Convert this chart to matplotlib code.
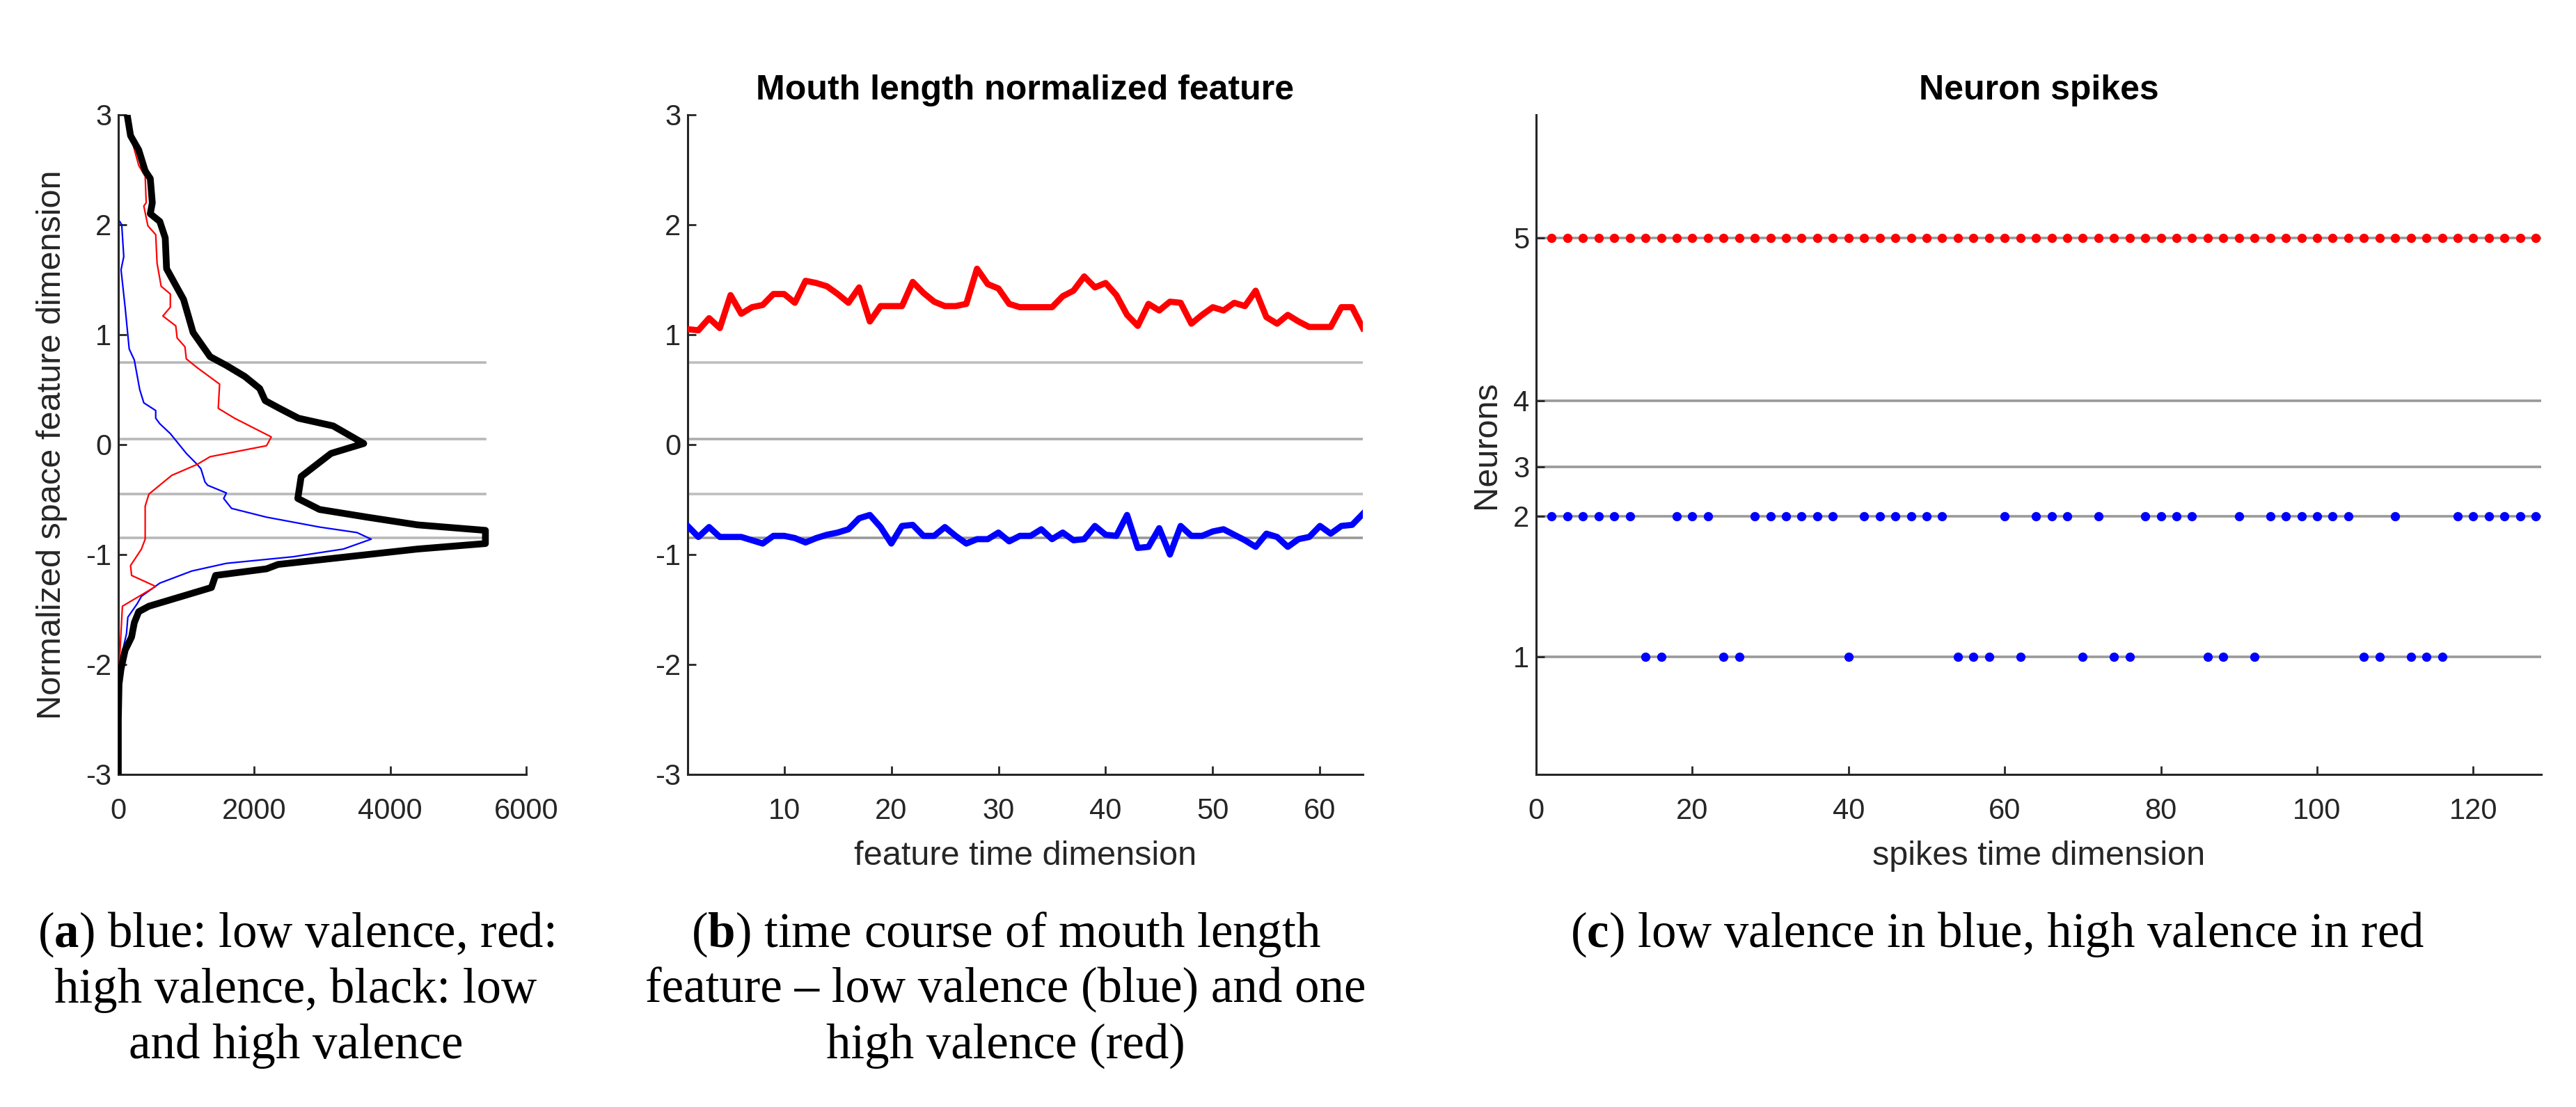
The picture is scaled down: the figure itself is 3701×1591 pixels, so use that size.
import matplotlib
matplotlib.use("Agg")
import matplotlib.pyplot as plt

# Panel (a): histograms, (bin centre, count)
black_y = [3.00, 2.81, 2.68, 2.49, 2.42, 2.20, 2.10, 2.03, 1.88, 1.60, 1.32, 1.02, 0.80, 0.72,
           0.62, 0.51, 0.40, 0.33, 0.24, 0.17, 0.01, -0.08, -0.29, -0.49, -0.59, -0.66, -0.73,
           -0.78, -0.90, -0.95, -1.09, -1.13, -1.19, -1.30, -1.47, -1.52, -1.62, -1.75, -1.87,
           -2.04, -2.18, -2.50, -3.00]
black_n = [130, 180, 300, 395, 470, 500, 470, 610, 690, 710, 960, 1100, 1350, 1590,
           1860, 2080, 2160, 2370, 2650, 3160, 3610, 3130, 2690, 2640, 2960, 3660, 4400,
           5400, 5400, 4400, 2350, 2180, 1430, 1370, 450, 300, 235, 195, 100,
           40, 10, 0, 0]
red_y = [3.00, 2.81, 2.54, 2.44, 2.20, 2.17, 1.99, 1.91, 1.65, 1.44, 1.37, 1.25, 1.17, 1.08,
         0.97, 0.89, 0.78, 0.70, 0.55, 0.33, 0.24, 0.07, -0.01, -0.11, -0.18, -0.28, -0.45,
         -0.56, -0.86, -0.95, -1.10, -1.19, -1.29, -1.47, -1.94, -2.30, -3.00]
red_n = [130, 180, 300, 395, 410, 375, 435, 550, 570, 630, 765, 765, 655, 845,
         865, 980, 1000, 1160, 1490, 1470, 1710, 2250, 2180, 1350, 1160, 785, 450,
         395, 395, 340, 180, 195, 550, 60, 20, 0, 0]
blue_y = [3.00, 2.05, 2.00, 1.71, 1.59, 1.25, 0.87, 0.77, 0.50, 0.38, 0.31, 0.24, 0.19, 0.10,
          -0.08, -0.18, -0.22, -0.34, -0.37, -0.44, -0.49, -0.58, -0.66, -0.75, -0.80, -0.86,
          -0.95, -1.02, -1.08, -1.15, -1.26, -1.38, -1.45, -1.57, -1.72, -1.94, -2.30, -3.00]
blue_n = [0, 0, 50, 80, 40, 100, 160, 235, 315, 375, 550, 550, 610, 765,
          1000, 1160, 1215, 1275, 1315, 1590, 1550, 1665, 2180, 2960, 3510, 3720,
          3310, 2570, 1590, 1080, 610, 340, 275, 140, 120, 40, 0, 0]
thresholds = [0.75, 0.05, -0.45, -0.85]

# Panel (b): mouth length feature over 64 frames
t_feat = list(range(1, 65))
high_val = [1.05, 1.04, 1.15, 1.06, 1.36, 1.19, 1.25, 1.27, 1.37, 1.37, 1.29, 1.49, 1.47, 1.44,
            1.37, 1.29, 1.43, 1.12, 1.26, 1.26, 1.26, 1.48, 1.38, 1.30, 1.26, 1.26, 1.28, 1.60,
            1.46, 1.42, 1.28, 1.25, 1.25, 1.25, 1.25, 1.35, 1.40, 1.53, 1.43, 1.47, 1.36, 1.18,
            1.08, 1.28, 1.22, 1.30, 1.29, 1.10, 1.18, 1.25, 1.22, 1.29, 1.26, 1.40, 1.16, 1.10,
            1.18, 1.12, 1.07, 1.07, 1.07, 1.25, 1.25, 1.06]
low_val = [-0.74, -0.84, -0.75, -0.84, -0.84, -0.84, -0.87, -0.90, -0.83, -0.83, -0.85, -0.89,
           -0.85, -0.82, -0.80, -0.77, -0.67, -0.64, -0.75, -0.90, -0.74, -0.73, -0.83, -0.83,
           -0.75, -0.83, -0.90, -0.86, -0.86, -0.80, -0.88, -0.83, -0.83, -0.77, -0.86, -0.80,
           -0.87, -0.86, -0.74, -0.82, -0.83, -0.64, -0.94, -0.93, -0.76, -1.00, -0.74, -0.83,
           -0.83, -0.79, -0.77, -0.82, -0.87, -0.93, -0.81, -0.84, -0.93, -0.86, -0.84, -0.74,
           -0.81, -0.74, -0.73, -0.63]

# Panel (c): spike times per neuron
neuron_labels = ["1", "2", "3", "4", "5"]
neuron_pos = [-1.93, -0.65, -0.20, 0.40, 1.88]
red_spikes_n5 = list(range(2, 129, 2))
blue_spikes_n2 = [2, 4, 6, 8, 10, 12, 18, 20, 22, 28, 30, 32, 34, 36, 38, 42, 44, 46, 48, 50, 52,
                  60, 64, 66, 68, 72, 78, 80, 82, 84, 90, 94, 96, 98, 100, 102, 104, 110,
                  118, 120, 122, 124, 126, 128]
blue_spikes_n1 = [14, 16, 24, 26, 40, 54, 56, 58, 62, 70, 74, 76, 86, 88, 92, 106, 108,
                  112, 114, 116]

plt.rcParams['font.family'] = ['Liberation Sans', 'DejaVu Sans']
plt.rcParams['mathtext.fontset'] = 'custom'
plt.rcParams['mathtext.rm'] = 'Liberation Serif'
plt.rcParams['mathtext.bf'] = 'Liberation Serif:bold'

W, H = 3701, 1591
fig = plt.figure(figsize=(W / 200, H / 200), dpi=200)

axis_col = (0.15, 0.15, 0.15)
ax_bottom = 1 - 1113 / H
ax_height = (1113 - 165) / H
label_size = 17.5
title_size = 18


def style_axes(ax):
    for s in ["top", "right"]:
        ax.spines[s].set_visible(False)
    for s in ["left", "bottom"]:
        ax.spines[s].set_linewidth(1.1)
        ax.spines[s].set_color(axis_col)
    ax.tick_params(direction="in", length=4.3, width=1.0, colors=axis_col,
                   labelsize=15, labelcolor=axis_col)


# (a)
ax1 = fig.add_axes([170 / W, ax_bottom, (756 - 170) / W, ax_height])
for th in thresholds:
    ax1.plot([0, max(black_n)], [th, th], color=(0.72, 0.72, 0.72), lw=1.3, zorder=1)
ax1.plot(blue_n, blue_y, color="blue", lw=0.8, zorder=2)
ax1.plot(red_n, red_y, color="red", lw=0.8, zorder=3)
ax1.plot(black_n, black_y, color="black", lw=3.5, zorder=4)
ax1.set_xlim(0, 6000)
ax1.set_ylim(-3, 3)
ax1.set_xticks([0, 2000, 4000, 6000])
ax1.set_yticks([-3, -2, -1, 0, 1, 2, 3])
ax1.set_yticklabels(["-3", "-2", "-1", "0", "1", "2", "3"])
style_axes(ax1)
ax1.tick_params(axis="x", pad=12)
ax1.set_ylabel("Normalized space feature dimension", fontsize=label_size, color=axis_col)
ax1.yaxis.set_label_coords(-0.125, 0.5)

# (b)
ax2 = fig.add_axes([988 / W, ax_bottom, (1958 - 988) / W, ax_height])
th_cols = [(0.75, 0.75, 0.75), (0.68, 0.68, 0.68), (0.75, 0.75, 0.75), (0.6, 0.6, 0.6)]
for th, c in zip(thresholds, th_cols):
    ax2.axhline(th, color=c, lw=1.3, zorder=1)
ax2.plot(t_feat, high_val, color="red", lw=3.2, zorder=3)
ax2.plot(t_feat, low_val, color="blue", lw=3.2, zorder=3)
ax2.set_xlim(1, 64)
ax2.set_ylim(-3, 3)
ax2.set_xticks([10, 20, 30, 40, 50, 60])
ax2.set_yticks([-3, -2, -1, 0, 1, 2, 3])
ax2.set_yticklabels(["-3", "-2", "-1", "0", "1", "2", "3"])
style_axes(ax2)
ax2.tick_params(axis="x", pad=12)
ax2.set_xlabel("feature time dimension", fontsize=label_size, color=axis_col)
ax2.xaxis.set_label_coords(0.5, -0.1)
ax2.text(0.5, 1.037, "Mouth length normalized feature", transform=ax2.transAxes,
         ha="center", va="center", fontsize=title_size, fontweight="bold")

# (c)
ax3 = fig.add_axes([2207 / W, ax_bottom, (3651 - 2207) / W, ax_height])
for p in neuron_pos:
    ax3.axhline(p, color=(0.6, 0.6, 0.6), lw=1.3, zorder=1)
ax3.plot(red_spikes_n5, [neuron_pos[4]] * len(red_spikes_n5), "o", color="red",
         markersize=4.8, markeredgewidth=0, zorder=3)
ax3.plot(blue_spikes_n2, [neuron_pos[1]] * len(blue_spikes_n2), "o", color="blue",
         markersize=4.8, markeredgewidth=0, zorder=3)
ax3.plot(blue_spikes_n1, [neuron_pos[0]] * len(blue_spikes_n1), "o", color="blue",
         markersize=4.8, markeredgewidth=0, zorder=3)
ax3.set_xlim(0, 128.7)
ax3.set_ylim(-3, 3)
ax3.set_xticks([0, 20, 40, 60, 80, 100, 120])
ax3.set_yticks(neuron_pos)
ax3.set_yticklabels(neuron_labels)
style_axes(ax3)
ax3.tick_params(axis="x", pad=12)
ax3.set_xlabel("spikes time dimension", fontsize=label_size, color=axis_col)
ax3.xaxis.set_label_coords(0.5, -0.1)
ax3.set_ylabel("Neurons", fontsize=label_size, color=axis_col)
ax3.yaxis.set_label_coords(-0.034, 0.5)
ax3.text(0.5, 1.037, "Neuron spikes", transform=ax3.transAxes,
         ha="center", va="center", fontsize=title_size, fontweight="bold")

# captions
cap_font = dict(family="Liberation Serif", fontsize=25.5, ha="center", va="center")
line_y = [1 - 1343 / H, 1 - 1423 / H, 1 - 1503 / H]
cap_a = [r"($\mathbf{a}$) blue: low valence, red:", "high valence, black: low", "and high valence"]
cap_b = [r"($\mathbf{b}$) time course of mouth length", "feature \u2013 low valence (blue) and one",
         "high valence (red)"]
cap_c = [r"($\mathbf{c}$) low valence in blue, high valence in red"]
for x, lines in [(425 / W, cap_a), (1445 / W, cap_b), (2870 / W, cap_c)]:
    for yy, txt in zip(line_y, lines):
        fig.text(x, yy, txt, **cap_font)

fig.savefig("out.png", dpi=200, facecolor="white")
